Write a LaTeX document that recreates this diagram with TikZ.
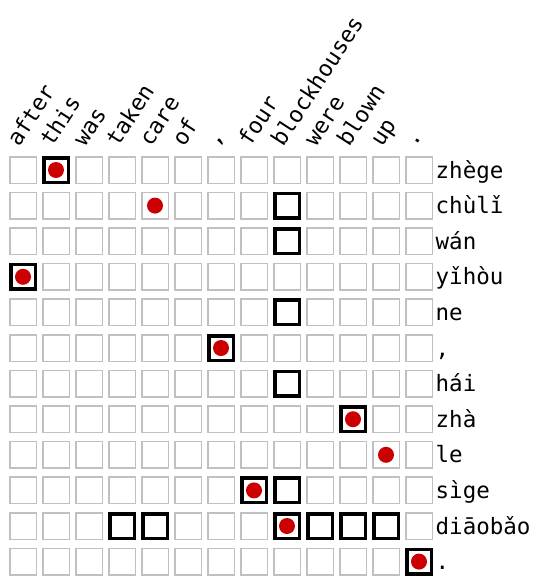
\documentclass[tikz,border=0pt]{standalone}
\usepackage{fontspec}
\setmonofont{DejaVu Sans Mono}
\definecolor{cellgray}{HTML}{C0C0C0}
\definecolor{dotred}{HTML}{CC0000}
\tikzset{
  cell/.style={draw=cellgray, line width=1.5pt, minimum size=26.5pt, inner sep=0pt, fill=white},
  hibox/.style={draw=black, line width=3.5pt, minimum size=24.5pt, inner sep=0pt},
  hidot/.style={circle, fill=dotred, minimum size=16pt, inner sep=0pt},
  lab/.style={font=\ttfamily\fontsize{22.5}{26}\selectfont, inner sep=0pt},
  rowlab/.style={lab, anchor=base west},
  collab/.style={lab, anchor=base west, rotate=57},
}
\begin{document}
\begin{tikzpicture}[x=1pt,y=-1pt]
\useasboundingbox (0,0) rectangle (538,576);
% grid
\foreach \r in {0,...,11}{
  \foreach \c in {0,...,12}{
    \node[cell] (c-\r-\c) at ({23+33*\c},{170+35.6*\r}) {};
  }
}
% column labels
\foreach \w [count=\i from 0] in {after,this,was,taken,care,of,{,},four,blockhouses,were,blown,up,.}{
  \node[collab] (col-\i) at ({19+33*\i},148) {\w};
}
% row labels
\foreach \w [count=\i from 0] in {zhège,chùlǐ,wán,yǐhòu,ne,{,},hái,zhà,le,sìge,diāobǎo,.}{
  \node[rowlab] (row-\i) at (435.5,{178+35.6*\i}) {\w};
}
% highlighted boxes
\foreach \r/\c in {0/1,1/8,2/8,3/0,4/8,5/6,6/8,7/10,9/7,9/8,10/3,10/4,10/8,10/9,10/10,10/11,11/12}{
  \node[hibox] (b-\r-\c) at (c-\r-\c.center) {};
}
% dots
\foreach \r/\c in {0/1,1/4,3/0,5/6,7/10,8/11,9/7,10/8,11/12}{
  \node[hidot] (d-\r-\c) at (c-\r-\c.center) {};
}
\end{tikzpicture}
\end{document}
